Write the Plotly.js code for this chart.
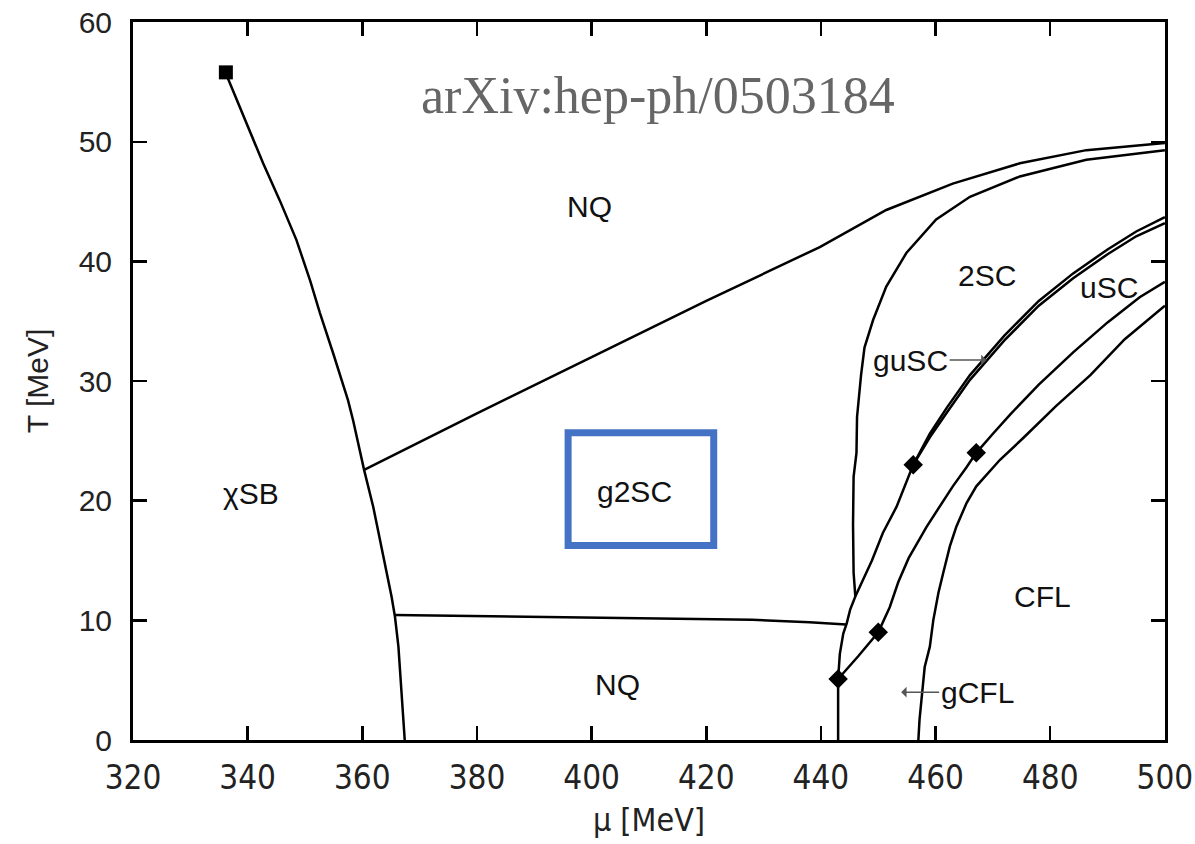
<!DOCTYPE html>
<html>
<head>
<meta charset="utf-8">
<script src="https://cdn.plot.ly/plotly-3.0.1.min.js"></script>
<style>html,body{margin:0;padding:0;background:#fff;}#chart{width:1195px;height:844px;}</style>
</head>
<body>
<div id="chart"></div>
<script>
// ---- Data (mu [MeV], T [MeV]) ----
const chiralMu = [336.2, 339.8, 342.7, 345.6, 348.5, 350.9, 352.6, 355.0, 357.5, 358.4, 360.3, 361.9, 363.1, 364.2, 365.1, 365.7, 366.3, 367.4];
const chiralT  = [55.7, 51.5, 48.2, 45.1, 41.8, 38.4, 35.7, 32.2, 28.4, 26.7, 22.6, 19.5, 16.7, 14.2, 12.0, 10.3, 7.8, 0.0];

const nqUpperMu = [360.4, 380, 400, 420, 439.8, 451.4, 463.0, 474.7, 486.3, 500];
const nqUpperT  = [22.6, 27.3, 32.0, 36.7, 41.2, 44.3, 46.5, 48.2, 49.3, 49.9];

const nqLowerMu = [365.6, 386.0, 428.0, 438.0, 444.4];
const nqLowerT  = [10.45, 10.3, 10.05, 9.85, 9.65];

const twoScMu = [446.0, 445.7, 445.6, 445.7, 446.2, 446.3, 447.0, 447.6, 449.1, 451.4, 454.9, 460.1, 466.0, 474.7, 486.3, 500];
const twoScT  = [12.0, 14.0, 18.0, 22.0, 24.0, 27.0, 30.5, 32.8, 35.1, 37.9, 40.7, 43.5, 45.4, 47.1, 48.5, 49.3];

const guScUpperMu = [443.0, 443.0, 443.3, 443.9, 444.5, 445.1, 446.0, 447.4, 448.9, 450.8, 453.2, 456.1, 459.0, 462.0, 466.0, 472.0, 478.0, 484.0, 490.0, 495.0, 500];
const guScUpperT  = [0.0, 5.1, 7.2, 8.9, 9.75, 10.9, 12.0, 13.4, 15.0, 17.3, 19.5, 23.0, 25.6, 27.8, 30.5, 33.8, 36.7, 39.0, 41.0, 42.5, 43.7];

const guScLowerMu = [456.1, 459.0, 462.0, 466.0, 472.0, 478.0, 484.0, 490.0, 495.0, 500];
const guScLowerT  = [23.0, 25.3, 27.4, 30.1, 33.4, 36.3, 38.6, 40.6, 42.1, 43.2];

const uScMu = [443.0, 446.5, 450.0, 452.0, 453.5, 455.3, 458.4, 460.7, 463.0, 465.4, 467.1, 470.0, 473.0, 478.0, 484.0, 490.0, 495.6, 500];
const uScT  = [5.1, 7.0, 9.0, 11.1, 13.2, 15.2, 17.8, 19.5, 21.2, 22.8, 24.0, 25.6, 27.2, 29.7, 32.4, 34.9, 37.0, 38.3];

const cflMu = [457.0, 457.2, 458.1, 459.0, 459.6, 460.5, 461.3, 462.5, 463.6, 465.4, 467.1, 468.6, 471.2, 475.2, 481.0, 487.0, 493.0, 500];
const cflT  = [0.0, 1.7, 6.1, 7.8, 10.0, 12.3, 13.9, 16.2, 17.8, 19.8, 21.2, 22.0, 23.4, 25.2, 27.9, 30.5, 33.5, 36.3];

const cepMu = [336.2];
const cepT  = [55.8];
const tripleMu = [443.0, 450.0, 456.1, 467.1];
const tripleT  = [5.1, 9.0, 23.0, 24.0];

const xTicks = [320, 340, 360, 380, 400, 420, 440, 460, 480, 500];
const yTicks = [0, 10, 20, 30, 40, 50, 60];

// ---- Build traces ----
const lineStyle = {color: '#000', width: 2.5};
function curve(mu, T) {
  return {x: mu, y: T, mode: 'lines', line: lineStyle, hoverinfo: 'skip', showlegend: false, cliponaxis: true};
}
const traces = [
  curve(chiralMu, chiralT),
  curve(nqUpperMu, nqUpperT),
  curve(nqLowerMu, nqLowerT),
  curve(twoScMu, twoScT),
  curve(guScUpperMu, guScUpperT),
  curve(guScLowerMu, guScLowerT),
  curve(uScMu, uScT),
  curve(cflMu, cflT),
  {x: cepMu, y: cepT, mode: 'markers', marker: {symbol: 'square', size: 14, color: '#000'}, hoverinfo: 'skip', showlegend: false},
  {x: tripleMu, y: tripleT, mode: 'markers', marker: {symbol: 'diamond', size: 15, color: '#000'}, hoverinfo: 'skip', showlegend: false}
];

const labelFont = {family: 'Liberation Sans, Arial, sans-serif', size: 30, color: '#111'};
function label(text, x, y) {
  return {text: text, x: x, y: y, xref: 'x', yref: 'y', showarrow: false, font: labelFont, xanchor: 'center', yanchor: 'middle'};
}
const narrow = 'Liberation Sans Narrow, DejaVu Sans Condensed, Arial Narrow, Arial, sans-serif';

const layout = {
  width: 1195, height: 844,
  margin: {l: 133, r: 30, t: 22, b: 104},
  paper_bgcolor: '#fff', plot_bgcolor: '#fff',
  xaxis: {
    range: [320, 500.02], tickvals: xTicks, ticktext: xTicks.map(String),
    showline: true, linecolor: '#000', linewidth: 3, mirror: 'ticks',
    ticks: 'inside', ticklen: 14, tickwidth: 2.5, tickcolor: '#000',
    showgrid: false, zeroline: false, ticklabelstandoff: 6,
    tickfont: {family: narrow, size: 33, color: '#222'},
    title: {text: 'μ [MeV]', font: {family: narrow, size: 32, color: '#222'}, standoff: 14}
  },
  yaxis: {
    range: [0, 60.01], tickvals: yTicks, ticktext: yTicks.map(String),
    showline: true, linecolor: '#000', linewidth: 3, mirror: 'ticks',
    ticks: 'inside', ticklen: 14, tickwidth: 2.5, tickcolor: '#000',
    showgrid: false, zeroline: false, ticklabelstandoff: 12,
    tickfont: {family: 'Liberation Sans, Arial, sans-serif', size: 30, color: '#222'},
    title: {text: 'T [MeV]', font: {family: 'Liberation Sans, Arial, sans-serif', size: 30, color: '#222'}, standoff: 22}
  },
  shapes: [
    {type: 'rect', xref: 'x', yref: 'y', x0: 395.9, x1: 421.3, y0: 16.25, y1: 25.67,
     line: {color: '#4472C4', width: 7}, fillcolor: 'rgba(0,0,0,0)'}
  ],
  annotations: [
    {text: 'arXiv:hep-ph/0503184', xref: 'paper', yref: 'y', x: 0.509, y: 53.9, showarrow: false,
     xanchor: 'center', yanchor: 'middle',
     font: {family: 'Liberation Serif, Times New Roman, serif', size: 52, color: '#666'}},
    label('NQ', 399.7, 44.6),
    label('NQ', 404.6, 4.6),
    label('g2SC', 407.5, 20.8),
    label('χSB', 340.6, 20.6),
    label('2SC', 468.9, 38.8),
    label('uSC', 490.2, 37.8),
    label('CFL', 478.7, 12.0),
    {text: 'guSC', x: 468.9, y: 31.75, xref: 'x', yref: 'y', ax: -76, ay: 0, showarrow: true,
     arrowhead: 1, arrowsize: 1.2, arrowwidth: 1.5, arrowcolor: '#555', font: labelFont},
    {text: 'gCFL', x: 454.0, y: 4.0, xref: 'x', yref: 'y', ax: 76, ay: 0, showarrow: true,
     arrowhead: 1, arrowsize: 1.2, arrowwidth: 1.5, arrowcolor: '#555', font: labelFont}
  ]
};

Plotly.newPlot('chart', traces, layout, {staticPlot: true, displayModeBar: false});
</script>
</body>
</html>
